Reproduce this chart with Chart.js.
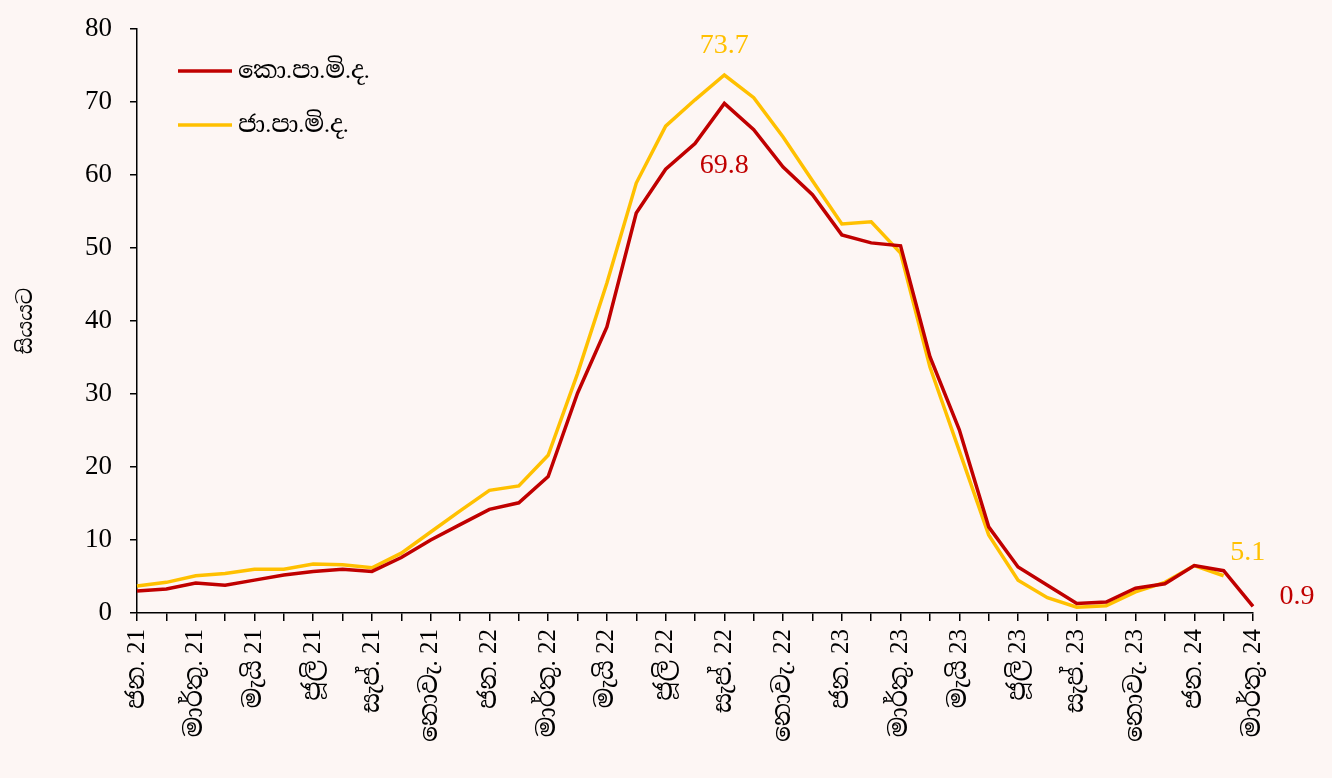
<!DOCTYPE html>
<html>
<head>
<meta charset="utf-8">
<script src="https://cdn.jsdelivr.net/npm/chart.js@4.4.1/dist/chart.umd.min.js"></script>
<style>
html,body{margin:0;padding:0;background:#FDF6F4;}
#wrap{width:1332px;height:778px;position:relative;}
</style>
</head>
<body>
<div id="wrap"><canvas id="c"></canvas></div>
<script>
const months = [
 'ජන. 21','පෙබ. 21','මාර්තු. 21','අප්‍රේ. 21','මැයි 21','ජූනි 21','ජූලි 21','අගෝ. 21','සැප්. 21','ඔක්. 21','නොවැ. 21','දෙසැ. 21',
 'ජන. 22','පෙබ. 22','මාර්තු. 22','අප්‍රේ. 22','මැයි 22','ජූනි 22','ජූලි 22','අගෝ. 22','සැප්. 22','ඔක්. 22','නොවැ. 22','දෙසැ. 22',
 'ජන. 23','පෙබ. 23','මාර්තු. 23','අප්‍රේ. 23','මැයි 23','ජූනි 23','ජූලි 23','අගෝ. 23','සැප්. 23','ඔක්. 23','නොවැ. 23','දෙසැ. 23',
 'ජන. 24','පෙබ. 24','මාර්තු. 24'
];
const ccpiLabel = 'කො.පා.මි.ද.';
const ccpi = [3.0,3.3,4.1,3.8,4.5,5.2,5.7,6.0,5.7,7.6,10.0,12.1,14.2,15.1,18.7,30.1,39.2,54.8,60.8,64.3,69.8,66.2,61.1,57.3,51.8,50.7,50.3,35.1,25.1,11.8,6.3,3.8,1.3,1.5,3.4,4.0,6.5,5.8,0.9];
const ncpiLabel = 'ජා.පා.මි.ද.';
const ncpi = [3.7,4.2,5.1,5.4,6.0,6.0,6.7,6.6,6.2,8.2,11.1,14.0,16.8,17.4,21.6,32.8,45.2,58.9,66.7,70.3,73.7,70.6,65.2,59.2,53.3,53.6,49.3,33.7,22.2,10.7,4.5,2.1,0.8,1.0,2.9,4.2,6.5,5.1,null];
const yTicks = {min:0, max:80, step:10};
const yTitle = 'සියයට';
// value labels: [datasetIndex, pointIndex]
const valueLabels = [[1,20],[0,20],[1,37],[0,38]];

const RED = '#C00000', YEL = '#FFC000';
const FONT = "'Liberation Serif','Noto Serif Sinhala','Noto Sans Sinhala',serif";

const labelOffsets = {'1,20':[0,-29],'0,20':[0,62],'1,37':[24,-23],'0,38':[44,-10]};

const extras = {
  id:'extras',
  afterDatasetsDraw(chart){
    const ctx = chart.ctx, ca = chart.chartArea;
    ctx.save();
    // legend
    const items = [[RED, chart.data.datasets[0].label],[YEL, chart.data.datasets[1].label]];
    items.forEach((it,k)=>{
      const y = ca.top + 42 + k*54;
      ctx.strokeStyle = it[0]; ctx.lineWidth = 3.5;
      ctx.beginPath(); ctx.moveTo(ca.left+41, y); ctx.lineTo(ca.left+95, y); ctx.stroke();
      ctx.fillStyle = '#000'; ctx.font = '24px '+FONT; ctx.textBaseline='middle'; ctx.textAlign='left';
      ctx.fillText(it[1], ca.left+101, y+1);
    });
    // value labels
    valueLabels.forEach(([d,i])=>{
      const meta = chart.getDatasetMeta(d);
      const v = chart.data.datasets[d].data[i];
      const p = meta.data[i];
      const off = labelOffsets[d+','+i];
      ctx.fillStyle = d===0?RED:YEL;
      ctx.font = '28px '+FONT; ctx.textAlign='center'; ctx.textBaseline='middle';
      ctx.fillText(v.toFixed(1), p.x+off[0], p.y+off[1]);
    });
    ctx.restore();
  }
};

new Chart(document.getElementById('c'), {
  type:'line',
  data:{
    labels: months,
    datasets:[
      {label:ccpiLabel, data:ccpi, borderColor:RED, backgroundColor:RED, borderWidth:3.5, pointRadius:0, tension:0},
      {label:ncpiLabel, data:ncpi, borderColor:YEL, backgroundColor:YEL, borderWidth:3.5, pointRadius:0, tension:0}
    ]
  },
  options:{
    responsive:true, maintainAspectRatio:false, animation:false,
    layout:{padding:{left:14, right:79, top:29, bottom:0}},
    plugins:{legend:{display:false}, tooltip:{enabled:false}},
    scales:{
      x:{
        offset:false,
        grid:{display:true, drawOnChartArea:false, color:'#000', tickLength:8, lineWidth:1.5},
        border:{display:true, color:'#000', width:1.5},
        ticks:{autoSkip:false, maxRotation:90, minRotation:90, color:'#000', padding:8,
          font:{family:FONT, size:25},
          callback:(v,i)=> i%2===0 ? months[i] : ''},
        afterFit:(s)=>{ s.height = 165; s.paddingTop = 0; s.paddingBottom = 0; s.paddingLeft = 0; s.paddingRight = 0; }
      },
      y:{
        min:yTicks.min, max:yTicks.max,
        grid:{display:true, drawOnChartArea:false, color:'#000', tickLength:7, lineWidth:1.5},
        border:{display:true, color:'#000', width:1.5},
        ticks:{stepSize:yTicks.step, color:'#000', padding:18, font:{family:FONT, size:27}},
        title:{display:true, text:yTitle, color:'#000', font:{family:FONT, size:21}, padding:{top:0,bottom:4}},
        afterFit:(s)=>{ s.width = 123; s.paddingTop = 0; s.paddingBottom = 0; s.paddingLeft = 0; s.paddingRight = 0; }
      }
    }
  },
  plugins:[extras]
});
</script>
</body>
</html>
